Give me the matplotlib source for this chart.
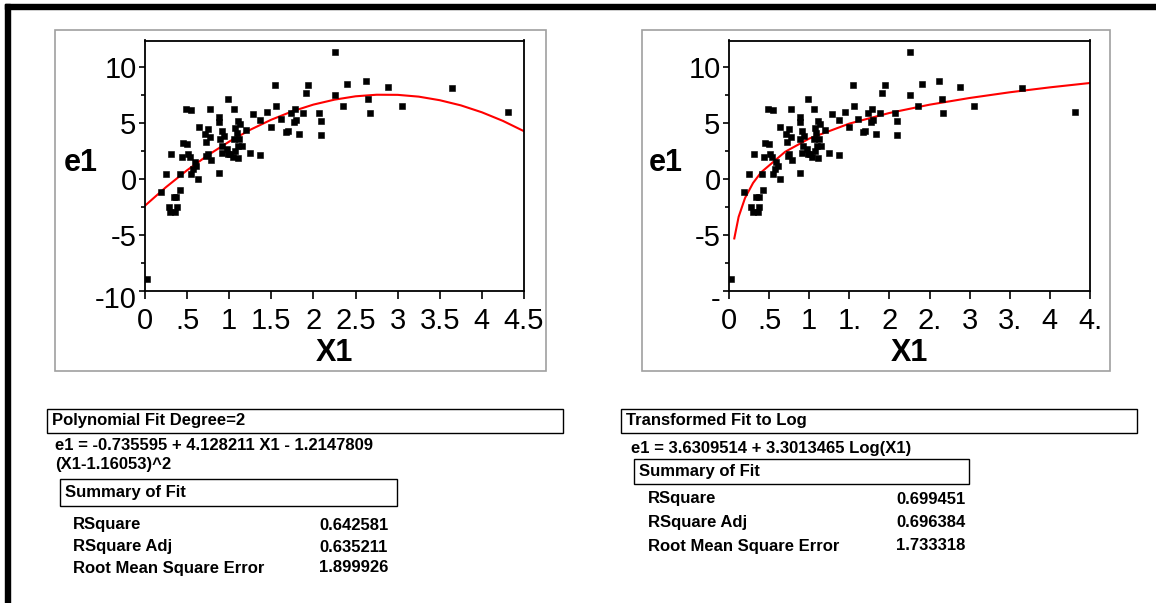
import matplotlib
matplotlib.use("Agg")

import matplotlib.pyplot as plt
from matplotlib.patches import Rectangle
from matplotlib.transforms import Affine2D

plt.rcParams['font.family'] = ['Liberation Sans', 'DejaVu Sans']

# scatter data (X1, e1)
x1 = [0.02, 0.19, 0.25, 0.31, 0.28, 0.30, 0.36, 0.38, 0.34, 0.37,
      0.42, 0.41, 0.45, 0.50, 0.44, 0.51, 0.53, 0.49, 0.55, 0.55,
      0.57, 0.61, 0.63, 0.59, 0.64, 0.71, 0.75, 0.77, 0.72, 0.77,
      0.75, 0.78, 0.73, 0.88, 0.88, 0.88, 0.91, 0.94, 0.89, 0.92,
      0.91, 0.98, 1.01, 1.04, 0.97, 0.98, 1.06, 1.11, 1.13, 1.07,
      1.09, 1.06, 1.12, 1.15, 1.10, 1.07, 1.11, 1.20, 1.25, 1.28,
      1.37, 1.37, 1.45, 1.50, 1.54, 1.56, 1.61, 1.67, 1.70, 1.73,
      1.78, 1.79, 1.77, 1.83, 1.88, 1.91, 1.94, 2.07, 2.09, 2.09,
      2.26, 2.26, 2.35, 2.40, 2.62, 2.65, 2.67, 2.88, 3.05, 3.65,
      4.31]
e1 = [-8.93, -1.19, 0.45, 2.29, -2.53, -2.98, -2.98, -2.47, -1.55, -1.55,
      -0.95, 0.45, 3.27, 3.18, 2.02, 2.23, 2.02, 6.31, 6.19, 0.45,
      0.89, 1.19, 0.00, 1.54, 4.70, 4.02, 4.52, 3.81, 3.33, 6.31,
      2.23, 1.72, 2.08, 0.54, 5.60, 5.12, 4.31, 3.87, 3.57, 2.98,
      2.38, 2.23, 2.23, 2.02, 2.68, 7.20, 6.31, 5.21, 4.91, 4.61,
      4.17, 3.57, 3.63, 2.98, 2.98, 2.53, 1.85, 4.40, 2.38, 5.80,
      5.27, 2.17, 6.04, 4.67, 8.39, 6.55, 5.36, 4.23, 4.29, 5.95,
      6.25, 5.30, 5.15, 4.02, 5.89, 7.68, 8.42, 5.89, 5.18, 3.93,
      11.40, 7.53, 6.55, 8.54, 8.78, 7.14, 5.89, 8.27, 6.55, 8.18,
      6.04]

# fitted curves as drawn
poly_x = [0, 0.25, 0.5, 0.75, 1.0, 1.25, 1.5, 1.75, 2.0, 2.25, 2.5,
          2.75, 3.0, 3.25, 3.5, 3.75, 4.0, 4.25, 4.5]
poly_y = [-2.37, -0.71, 0.80, 2.16, 3.36, 4.42, 5.32, 6.07, 6.67, 7.11, 7.41,
          7.55, 7.54, 7.38, 7.06, 6.60, 5.98, 5.21, 4.29]
log_x = [0.066, 0.12, 0.2, 0.3, 0.4, 0.7, 1.0, 1.5, 2.0, 2.5, 3.0, 3.5, 4.0, 4.5]
log_y = [-5.30, -3.37, -1.68, -0.34, 0.61, 2.45, 3.63, 4.97, 5.92, 6.66, 7.26,
         7.77, 8.21, 8.60]

xticks = [0, 0.5, 1, 1.5, 2, 2.5, 3, 3.5, 4, 4.5]
left_xlabels = ['0', '.5', '1', '1.5', '2', '2.5', '3', '3.5', '4', '4.5']
right_xlabels = ['0', '.5', '1', '1.', '2', '2.', '3', '3.', '4', '4.']
yticks = [-10, -5, 0, 5, 10]
ylabels = ['', '-5', '0', '5', '10']

poly_title = "Polynomial Fit Degree=2"
poly_eq = ["e1 = -0.735595 + 4.128211 X1 - 1.2147809", "(X1-1.16053)^2"]
poly_stats = [("RSquare", "0.642581"), ("RSquare Adj", "0.635211"),
              ("Root Mean Square Error", "1.899926")]
log_title = "Transformed Fit to Log"
log_eq = ["e1 = 3.6309514 + 3.3013465 Log(X1)"]
log_stats = [("RSquare", "0.699451"), ("RSquare Adj", "0.696384"),
             ("Root Mean Square Error", "1.733318")]

W, H = 1156, 603
fig = plt.figure(figsize=(W / 100, H / 100), dpi=100)
pix = Affine2D().scale(1 / W, -1 / H).translate(0, 1) + fig.transFigure

# thick black border top and left
fig.patches.append(Rectangle((4.5, 4), W, 4.5, transform=pix, color='black'))
fig.patches.append(Rectangle((4.5, 4), 5, H, transform=pix, color='black'))

TICK_FS = 21


def panel(left, right, frame, xlabels, bottom_label, cx, cy, fx, fy):
    fr = Rectangle((frame[0], frame[1]), frame[2] - frame[0], frame[3] - frame[1],
                   transform=pix, fill=False, edgecolor='#a0a0a0', lw=1.2)
    fig.patches.append(fr)
    top, bottom = 40.5, 291
    ax = fig.add_axes([left / W, 1 - bottom / H, (right - left) / W, (bottom - top) / H])
    ax.plot(cx, cy, color='red', lw=1.5, zorder=2)
    ax.plot(x1, e1, 's', color='black', ms=4.7, mew=0.4, zorder=3)
    ax.set_xlim(0, 4.5)
    ax.set_ylim(-10, 12.4)
    ax.set_xticks(xticks, xlabels)
    ax.set_yticks(yticks, ylabels)
    ax.set_yticks([-7.5, -2.5, 2.5, 7.5], minor=True)
    ax.tick_params(axis='x', length=5.8, width=1.2, pad=6, labelsize=TICK_FS)
    ax.tick_params(axis='y', which='major', length=4.3, width=1.2, pad=1.8, labelsize=TICK_FS)
    ax.tick_params(axis='y', which='minor', length=3, width=1.2)
    for s in ax.spines.values():
        s.set_linewidth(1.3)
    for lab in ax.get_xticklabels():
        lab.set_clip_on(True)
        lab.set_clip_path(fr)
    ax.annotate(bottom_label, xy=(0, -10), xycoords=('axes fraction', 'data'),
                xytext=(-6.3, -6.5), textcoords='offset points',
                ha='right', va='center', fontsize=TICK_FS)
    ax.set_xlabel("X1", fontsize=22, fontweight='bold')
    ax.xaxis.label.set_va('center')
    ax.xaxis.set_label_coords(0.5, -(353 - bottom) / (bottom - top))
    ax.set_ylabel("e1", fontsize=22, fontweight='bold', rotation=0, va='center', ha='center')
    ax.yaxis.set_label_coords((fx - left) / (right - left), (bottom - fy) / (bottom - top))
    return ax


panel(145, 524, (55, 30, 546, 371), left_xlabels, "-10", poly_x, poly_y, 80.5, 163)
panel(729, 1090, (642, 30, 1110, 371), right_xlabels, "-", log_x, log_y, 666, 163)


def report(box, title, eq_lines, eq_x, eq_y, eq_step, sbox, stats, lab_x, val_x, row_y):
    fig.patches.append(Rectangle((box[0], box[1]), box[2] - box[0], box[3] - box[1],
                                 transform=pix, fill=False, edgecolor='black', lw=1))
    kw = dict(transform=pix, fontsize=12, fontweight='bold', va='center')
    fig.text(box[0] + 5, (box[1] + box[3]) / 2, title, **kw)
    for i, line in enumerate(eq_lines):
        fig.text(eq_x, eq_y + i * eq_step, line, **kw)
    fig.patches.append(Rectangle((sbox[0], sbox[1]), sbox[2] - sbox[0], sbox[3] - sbox[1],
                                 transform=pix, fill=False, edgecolor='black', lw=1))
    fig.text(sbox[0] + 5, (sbox[1] + sbox[3]) / 2, "Summary of Fit", **kw)
    for i, (name, val) in enumerate(stats):
        fig.text(lab_x, row_y[i], name, **kw)
        fig.text(val_x, row_y[i], val, **kw)


report((47, 408.5, 563, 432.5), poly_title, poly_eq, 55, 445.5, 19.5,
       (60, 478.5, 396.5, 506), poly_stats, 73, 319, [525, 547, 568])
report((621, 408.5, 1137, 433), log_title, log_eq, 631, 449, 19.5,
       (634, 459, 969, 483.5), log_stats, 648, 896, [499, 522.5, 546])

fig.savefig("out.png", dpi=100)
